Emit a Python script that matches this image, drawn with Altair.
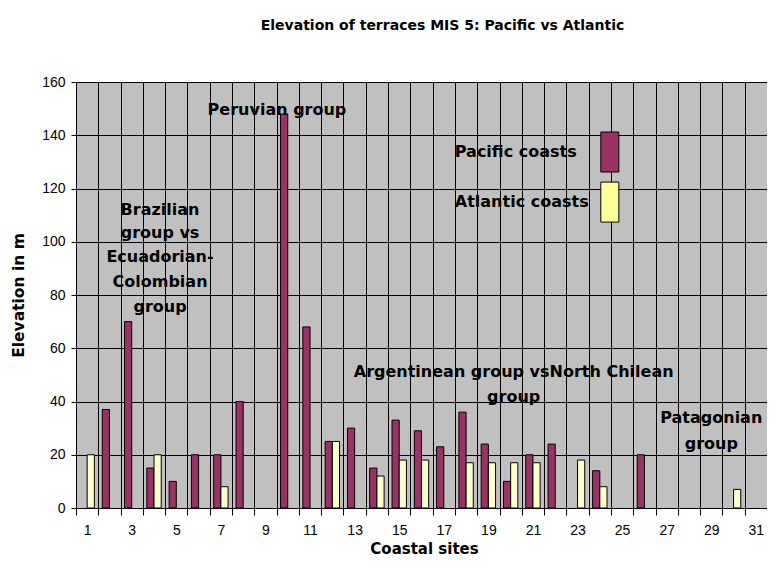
import altair as alt
import pandas as pd

# ---- data ----
sites = list(range(1, 32))
pacific = [None, 37, 70, 15, 10, 20, 20, 40, None, 148, 68, 25, 30, 15, 33, 29,
           23, 36, 24, 10, 20, 24, None, 14, None, 20, None, None, None, None, None]
atlantic = [20, None, None, 20, None, None, 8, None, None, None, None, 25, None, 12, 18, 18,
            None, 17, 17, 17, 17, None, 18, 8, None, None, None, None, None, 7, None]
series = ["Pacific coasts", "Atlantic coasts"]
bar_colors = ["#993366", "#FFFFCC"]
swatch_colors = ["#993366", "#FFFF99"]
y_ticks = [0, 20, 40, 60, 80, 100, 120, 140, 160]

# annotation groups: (lines, site, elevations, dx)
ann_peru = (["Peruvian group"], 9, [149.5], 11.5)
ann_braz = (["Brazilian", "group vs", "Ecuadorian-", "Colombian", "group"], 4,
            [111.9, 103.2, 94.2, 84.8, 75.4], 6)
ann_arg = (["Argentinean group vsNorth Chilean", "group"], 20, [51.0, 41.6], 3)
ann_pat = (["Patagonian", "group"], 29, [33.7, 24.0], 0)
legend_sites = [17, 17]
legend_elev = [133.7, 114.9]
swatch_site = 24

FONT = "Liberation Sans"
BFONT = "DejaVu Sans"

rows = []
for s, p, a in zip(sites, pacific, atlantic):
    if p is not None:
        rows.append({"site": s, "series": series[0], "elev": p})
    if a is not None:
        rows.append({"site": s, "series": series[1], "elev": a})
bars_df = pd.DataFrame(rows)

x_scale = alt.Scale(domain=sites, paddingInner=0, paddingOuter=0)
y_scale = alt.Scale(domain=[0, 160], nice=False)

x_axis = alt.Axis(
    title="Coastal sites", tickBand="extent", labelAngle=0,
    labelExpr="datum.value % 2 == 1 ? datum.label : ''",
    grid=True, gridColor="black", gridOpacity=1, gridWidth=1,
    domainColor="black", tickColor="black", tickSize=7,
    labelFont=FONT, labelFontSize=14, labelColor="black", labelPadding=8,
    titleFont=BFONT, titleFontSize=15, titleFontWeight="bold", titleColor="black",
    titleX=348, titleY=40, titleBaseline="middle", titleAlign="center",
)
y_axis = alt.Axis(
    values=y_ticks, title="Elevation in m",
    grid=True, gridColor="black", gridOpacity=1, gridWidth=1,
    domainColor="black", tickColor="black", tickSize=5,
    labelFont=FONT, labelFontSize=14, labelColor="black", labelPadding=6,
    titleFont=BFONT, titleFontSize=15.5, titleFontWeight="bold", titleColor="black",
    titleX=-58, titleY=213, titleBaseline="middle", titleAlign="center", titleAngle=270,
)

bars = alt.Chart(bars_df).mark_bar(stroke="black", strokeWidth=1).encode(
    x=alt.X("site:O", scale=x_scale, axis=x_axis),
    xOffset=alt.XOffset("series:N", scale=alt.Scale(domain=series, paddingInner=0, paddingOuter=0.55)),
    y=alt.Y("elev:Q", scale=y_scale, axis=y_axis),
    color=alt.Color("series:N", scale=alt.Scale(domain=series, range=bar_colors), legend=None),
)

def text_layer(group, align="center"):
    lines, site, elevs, dx = group
    df = pd.DataFrame({"text": lines, "site": [site] * len(lines), "elev": elevs})
    return alt.Chart(df).mark_text(
        font=BFONT, fontSize=16, fontWeight="bold", color="black",
        align=align, baseline="middle", dx=dx,
    ).encode(
        x=alt.X("site:O", scale=x_scale),
        y=alt.Y("elev:Q", scale=y_scale),
        text="text:N",
    )

legend_text_df = pd.DataFrame({"text": series, "site": legend_sites, "elev": legend_elev})
legend_text = alt.Chart(legend_text_df).mark_text(
    font=BFONT, fontSize=16, fontWeight="bold", color="black",
    align="left", baseline="middle", dx=11,
).encode(
    x=alt.X("site:O", scale=x_scale),
    y=alt.Y("elev:Q", scale=y_scale),
    text="text:N",
)

swatch_df = pd.DataFrame({"series": series, "site": [swatch_site] * 2, "elev": legend_elev})
swatches = alt.Chart(swatch_df).mark_point(
    shape="M-0.45,-1H0.45V1H-0.45Z", size=1600, filled=True, opacity=1,
    stroke="black", strokeWidth=1, xOffset=10,
).encode(
    x=alt.X("site:O", scale=x_scale),
    y=alt.Y("elev:Q", scale=y_scale),
    fill=alt.Fill("series:N", scale=alt.Scale(domain=series, range=swatch_colors), legend=None),
)

chart = alt.layer(
    bars,
    text_layer(ann_peru), text_layer(ann_braz), text_layer(ann_arg), text_layer(ann_pat),
    legend_text, swatches,
).resolve_scale(color="independent").properties(
    width=691, height=426,
    autosize=alt.AutoSizeParams(type="none"),
    padding={"left": 68, "top": 74, "right": 0, "bottom": 50},
    background="white",
    title=alt.TitleParams(
        "Elevation of terraces MIS 5: Pacific vs Atlantic",
        font=BFONT, fontSize=14, fontWeight="bold", color="black",
        anchor="middle", frame="group", dx=21, offset=42,
    ),
).configure_view(fill="#C0C0C0", stroke=None)

chart.save("out.html", embed_options={"renderer": "svg", "actions": False})
